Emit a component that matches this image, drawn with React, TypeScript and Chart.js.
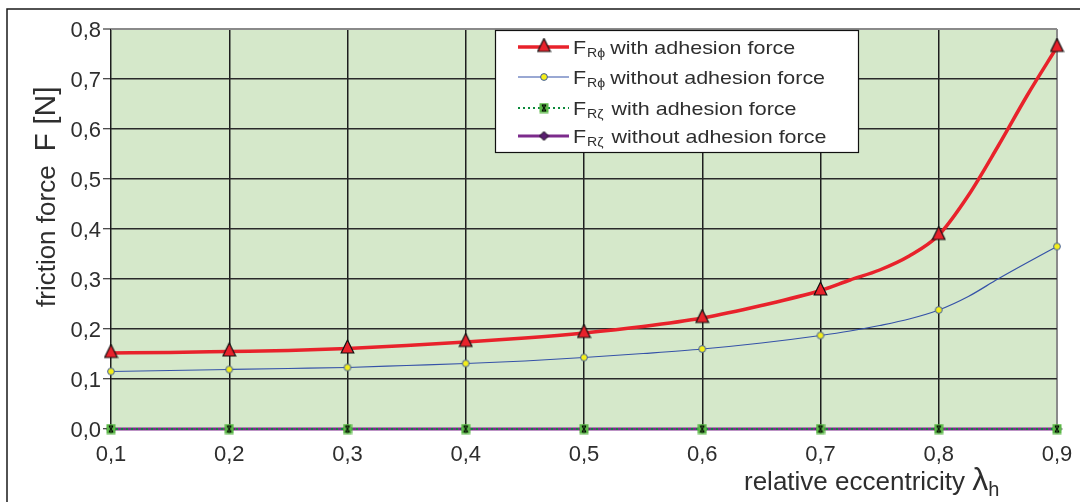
import React, { useEffect, useRef } from "react";
import { Chart, registerables } from "chart.js";

Chart.register(...registerables);

// ---------------- data ----------------
const xValues = [0.1, 0.15, 0.2, 0.25, 0.3, 0.35, 0.4, 0.45, 0.5, 0.55, 0.6, 0.65, 0.7, 0.725, 0.75, 0.775, 0.8, 0.825, 0.85, 0.875, 0.9];
const fRphiWith = [0.152, 0.153, 0.155, 0.157, 0.161, 0.167, 0.174, 0.182, 0.192, 0.205, 0.222, 0.247, 0.277, 0.298, 0.318, 0.346, 0.388, 0.467, 0.565, 0.668, 0.764];
const fRphiWithout = [0.115, 0.117, 0.119, 0.121, 0.123, 0.127, 0.131, 0.136, 0.143, 0.151, 0.16, 0.172, 0.187, 0.196, 0.207, 0.22, 0.238, 0.265, 0.3, 0.333, 0.365];
const zetaX = [0.1, 0.2, 0.3, 0.4, 0.5, 0.6, 0.7, 0.8, 0.9];
const fRzetaWith = [0, 0, 0, 0, 0, 0, 0, 0, 0];
const fRzetaWithout = [0, 0, 0, 0, 0, 0, 0, 0, 0];

const yTickLabels = ["0,0", "0,1", "0,2", "0,3", "0,4", "0,5", "0,6", "0,7", "0,8"];
const xTickLabels = ["0,1", "0,2", "0,3", "0,4", "0,5", "0,6", "0,7", "0,8", "0,9"];

const legendSubs = ["R\u03D5", "R\u03D5", "R\u03B6", "R\u03B6"];
const legendTexts = ["with adhesion force", "without adhesion force", "with adhesion force", "without adhesion force"];

const FONT = "'Liberation Sans', Arial, sans-serif";
const BG = "#d5e8ca";
const TXT = "#2e2e2e";

function makeCanvas(w: number, h: number, draw: (g: CanvasRenderingContext2D) => void) {
  const c = document.createElement("canvas");
  c.width = w;
  c.height = h;
  const g = c.getContext("2d")!;
  draw(g);
  return c;
}

function makeMarkers() {
  const tri = makeCanvas(15, 19, (g) => {
    g.beginPath();
    g.moveTo(7.5, 1);
    g.lineTo(13.8, 14);
    g.lineTo(1.2, 14);
    g.closePath();
    g.fillStyle = "#e8222b";
    g.fill();
    g.lineWidth = 1.2;
    g.strokeStyle = "#111";
    g.stroke();
  });
  const circ = makeCanvas(10, 10, (g) => {
    g.beginPath();
    g.arc(5, 5, 3.4, 0, Math.PI * 2);
    g.fillStyle = "#f4ee1a";
    g.fill();
    g.lineWidth = 1;
    g.strokeStyle = "#3c5aa6";
    g.stroke();
  });
  const sq = makeCanvas(10, 11, (g) => {
    g.fillStyle = "#5cb848";
    g.fillRect(0.5, 0.5, 9, 10);
    g.strokeStyle = "#000";
    g.lineWidth = 1.2;
    g.beginPath();
    g.moveTo(3, 2.5); g.lineTo(7, 8.5);
    g.moveTo(7, 2.5); g.lineTo(3, 8.5);
    g.moveTo(3, 2.5); g.lineTo(7, 2.5);
    g.moveTo(3, 8.5); g.lineTo(7, 8.5);
    g.stroke();
  });
  const dia = makeCanvas(11, 11, (g) => {
    g.beginPath();
    g.moveTo(5.5, 1);
    g.lineTo(10, 5.5);
    g.lineTo(5.5, 10);
    g.lineTo(1, 5.5);
    g.closePath();
    g.fillStyle = "#5a1e70";
    g.fill();
    g.lineWidth = 1;
    g.strokeStyle = "#111";
    g.stroke();
  });
  return { tri, circ, sq, dia };
}

const isMarkerX = (x: number) => Math.abs(x * 10 - Math.round(x * 10)) < 1e-6;

export default function App() {
  const ref = useRef<HTMLCanvasElement>(null);

  useEffect(() => {
    const canvas = ref.current!;
    const m = makeMarkers();

    const series = [
      { color: "#e8222b", width: 3.5, dash: [] as number[], marker: m.tri },
      { color: "#3552a8", width: 1.2, dash: [] as number[], marker: m.circ },
      { color: "#0d8a3c", width: 2, dash: [2, 3] as number[], marker: m.sq },
      { color: "#7c2b8c", width: 3, dash: [] as number[], marker: m.dia },
    ];

    const decor = {
      id: "decor",
      beforeDraw(chart: any) {
        const { ctx, chartArea: a } = chart;
        ctx.save();
        ctx.fillStyle = "#fff";
        ctx.fillRect(0, 0, chart.width, chart.height);
        ctx.fillStyle = BG;
        ctx.fillRect(a.left, a.top, a.right - a.left, a.bottom - a.top);
        ctx.strokeStyle = "#1a1a1a";
        ctx.lineWidth = 1.5;
        ctx.beginPath();
        ctx.moveTo(7, chart.height);
        ctx.lineTo(7, 9);
        ctx.lineTo(chart.width, 9);
        ctx.stroke();
        ctx.restore();
      },
      afterDraw(chart: any) {
        const { ctx } = chart;
        ctx.save();
        // legend box
        const lx = 495, ly = 30, lw = 363, lh = 122;
        ctx.fillStyle = "#fff";
        ctx.fillRect(lx, ly, lw, lh);
        ctx.strokeStyle = "#111";
        ctx.lineWidth = 1.2;
        ctx.strokeRect(lx + 0.5, ly + 0.5, lw, lh);
        const rowY = [47, 77, 108, 136];
        const sx = 1.13;
        for (let i = 0; i < 4; i++) {
          const s = series[i];
          const y = rowY[i];
          ctx.strokeStyle = s.color;
          ctx.lineWidth = s.width;
          ctx.setLineDash(s.dash);
          ctx.beginPath();
          ctx.moveTo(518, y);
          ctx.lineTo(569, y);
          ctx.stroke();
          ctx.setLineDash([]);
          const mk = s.marker;
          ctx.drawImage(mk, 544 - mk.width / 2, y - mk.height / 2);
          // text
          const base = y + 7;
          ctx.fillStyle = TXT;
          ctx.textBaseline = "alphabetic";
          let x = 573;
          ctx.save();
          ctx.translate(x, base);
          ctx.scale(sx, 1);
          ctx.font = `19px ${FONT}`;
          ctx.fillText("F", 0, 0);
          const fw = ctx.measureText("F").width * sx;
          ctx.restore();
          x += fw + 1;
          ctx.save();
          ctx.translate(x, base + 3);
          ctx.scale(sx, 1);
          ctx.font = `12.5px ${FONT}`;
          ctx.fillText(legendSubs[i], 0, 0);
          const sw = ctx.measureText(legendSubs[i]).width * sx;
          ctx.restore();
          x += sw + (i >= 2 ? 8 : 5);
          ctx.save();
          ctx.translate(x, base);
          ctx.scale(sx, 1);
          ctx.font = `19px ${FONT}`;
          ctx.fillText(legendTexts[i], 0, 0);
          ctx.restore();
        }
        // y title
        ctx.save();
        ctx.fillStyle = TXT;
        ctx.translate(55, 307);
        ctx.rotate(-Math.PI / 2);
        ctx.textBaseline = "alphabetic";
        ctx.font = `26px ${FONT}`;
        ctx.fillText("friction force", 0, 0);
        const w1 = ctx.measureText("friction force").width;
        ctx.font = `30px ${FONT}`;
        ctx.fillText("F [N]", w1 + 14, 0);
        ctx.restore();
        // x title
        ctx.save();
        ctx.fillStyle = TXT;
        ctx.textBaseline = "alphabetic";
        ctx.font = `26px ${FONT}`;
        const t = "relative eccentricity ";
        ctx.fillText(t, 744, 490);
        let xx = 744 + ctx.measureText(t).width;
        ctx.font = `32px ${FONT}`;
        ctx.fillText("\u03BB", xx, 490);
        xx += ctx.measureText("\u03BB").width;
        ctx.font = `20px ${FONT}`;
        ctx.fillText("h", xx, 496);
        ctx.restore();
        ctx.restore();
      },
    };

    const mkData = (xs: number[], ys: number[]) => xs.map((x, i) => ({ x, y: ys[i] }));
    const ds = (i: number, data: any[]) => ({
      data,
      borderColor: series[i].color,
      backgroundColor: series[i].color,
      borderWidth: series[i].width,
      borderDash: series[i].dash,
      pointStyle: series[i].marker,
      pointRadius: (c: any) => (c.raw && isMarkerX(c.raw.x) ? 5 : 0),
      pointHoverRadius: 0,
      cubicInterpolationMode: "monotone" as const,
      clip: false as any,
    });

    const chart = new Chart(canvas, {
      type: "line",
      data: {
        datasets: [
          ds(0, mkData(xValues, fRphiWith)),
          ds(1, mkData(xValues, fRphiWithout)),
          ds(2, mkData(zetaX, fRzetaWith)),
          ds(3, mkData(zetaX, fRzetaWithout)),
        ],
      },
      options: {
        animation: false,
        responsive: false,
        events: [],
        layout: { padding: { left: 0, top: 29, right: 23, bottom: 0 } },
        plugins: { legend: { display: false }, tooltip: { enabled: false }, title: { display: false } },
        scales: {
          x: {
            type: "linear",
            min: 0.1,
            max: 0.9,
            afterFit: (s: any) => { s.height = 73; s.paddingLeft = 0; s.paddingRight = 0; },
            border: { display: false },
            grid: {
              drawTicks: false,
              color: (c: any) => (c.tick && Math.abs(c.tick.value - 0.9) < 1e-6 ? "#8a8a8a" : "#1e1e1e"),
              lineWidth: (c: any) => (c.tick && Math.abs(c.tick.value - 0.9) < 1e-6 ? 2 : 1.5),
            },
            ticks: {
              stepSize: 0.1,
              padding: 13,
              color: TXT,
              font: { family: FONT, size: 22 },
              callback: (_v: any, i: number) => xTickLabels[i],
            },
          },
          y: {
            min: 0,
            max: 0.8,
            afterFit: (s: any) => { s.width = 111; s.paddingTop = 0; s.paddingBottom = 0; },
            border: { display: false },
            grid: {
              drawTicks: true,
              tickLength: 8,
              tickColor: "#111",
              tickWidth: 1,
              color: (c: any) => (c.tick && Math.abs(c.tick.value - 0.8) < 1e-6 ? "#8a8a8a" : "#2a2a2a"),
              lineWidth: (c: any) => (c.tick && Math.abs(c.tick.value - 0.8) < 1e-6 ? 2 : 1.5),
            },
            ticks: {
              stepSize: 0.1,
              padding: 2,
              labelOffset: 2,
              color: TXT,
              font: { family: FONT, size: 22 },
              callback: (_v: any, i: number) => yTickLabels[i],
            },
          },
        },
      },
      plugins: [decor],
    } as any);

    return () => chart.destroy();
  }, []);

  return (
    <div style={{ position: "absolute", left: 0, top: 0, width: 1080, height: 502, background: "#fff" }}>
      <canvas ref={ref} width={1080} height={502} style={{ display: "block" }} />
    </div>
  );
}
